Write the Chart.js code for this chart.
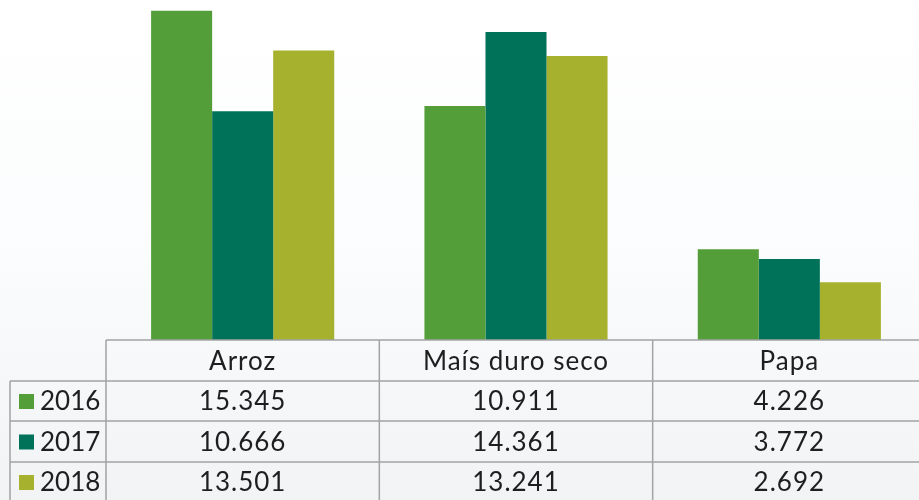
<!DOCTYPE html>
<html>
<head>
<meta charset="utf-8">
<script src="https://cdn.jsdelivr.net/npm/chart.js@4"></script>
<style>
  html, body { margin: 0; padding: 0; background: #fff; }
  #wrap { width: 919px; height: 500px; position: relative; overflow: hidden; }
</style>
</head>
<body>
<div id="wrap"><canvas id="myChart" width="926" height="500"></canvas></div>
<script>
const categories = ['Arroz', 'Maís duro seco', 'Papa']
const years = ['2016', '2017', '2018']
const values2016 = [15345, 10911, 4226]
const values2017 = [10666, 14361, 3772]
const values2018 = [13501, 13241, 2692]
const colors = ['#549E39', '#00725A', '#A6B22E']

const allValues = [values2016, values2017, values2018]

function fmt(v) {
    return String(v).replace(/\B(?=(\d{3})+(?!\d))/g, '.')
}

const bgPlugin = {
    id: 'bg',
    beforeDraw(chart) {
        const c = chart.ctx
        const g = c.createLinearGradient(0, 0, 0, chart.height)
        g.addColorStop(0, '#ffffff')
        g.addColorStop(0.5, '#fbfcfd')
        g.addColorStop(1, '#f1f3f5')
        c.save()
        c.fillStyle = g
        c.fillRect(0, 0, chart.width, chart.height)
        c.restore()
    }
}

// data table under the bars
const tablePlugin = {
    id: 'dataTable',
    afterDraw(chart) {
        const c = chart.ctx
        const x = chart.scales.x
        const top = chart.chartArea.bottom
        const rowTops = [top, top + 41, top + 81, top + 122]
        const bottom = 502
        const colW = x.getPixelForValue(1) - x.getPixelForValue(0)
        const left = x.getPixelForValue(0) - colW / 2
        const right = chart.chartArea.right
        const rowHeadLeft = 10

        c.save()
        c.strokeStyle = '#a3a3a3'
        c.lineWidth = 1.5

        c.beginPath()
        c.moveTo(left, rowTops[0]); c.lineTo(right, rowTops[0])
        for (let r = 1; r < rowTops.length; r++) {
            c.moveTo(rowHeadLeft, rowTops[r]); c.lineTo(right, rowTops[r])
        }
        c.moveTo(rowHeadLeft, rowTops[1]); c.lineTo(rowHeadLeft, bottom)
        for (let i = 0; i <= categories.length; i++) {
            const px = left + i * colW
            c.moveTo(px, rowTops[0]); c.lineTo(px, bottom)
        }
        c.stroke()

        c.fillStyle = '#1e1e1e'
        c.font = '26px Lato, "Noto Sans", sans-serif'
        c.letterSpacing = '1px'
        c.textAlign = 'center'
        c.textBaseline = 'middle'
        categories.forEach((cat, i) => {
            c.fillText(cat, x.getPixelForValue(i), (rowTops[0] + rowTops[1]) / 2 + 1)
        })
        for (let r = 0; r < years.length; r++) {
            const yMid = r < 2 ? (rowTops[r + 1] + rowTops[r + 2]) / 2 : rowTops[3] + 20
            c.letterSpacing = '1px'
            allValues[r].forEach((v, i) => {
                c.textAlign = 'center'
                c.fillText(fmt(v), x.getPixelForValue(i), yMid + 1)
            })
            c.fillStyle = colors[r]
            c.fillRect(19, yMid - 7, 15, 15)
            c.fillStyle = '#1e1e1e'
            c.textAlign = 'left'
            c.letterSpacing = '0px'
            c.fillText(years[r], 40, yMid + 1)
        }
        c.restore()
    }
}

const ctx = document.getElementById('myChart').getContext('2d')
const myChart = new Chart(ctx, {
    type: 'bar',
    data: {
        labels: categories,
        datasets: years.map((yr, i) => ({
            label: yr,
            data: allValues[i],
            backgroundColor: colors[i],
            borderWidth: 0
        }))
    },
    options: {
        responsive: false,
        animation: false,
        layout: { padding: { left: 106, right: 0, top: 0, bottom: 160 } },
        datasets: { bar: { categoryPercentage: 0.67, barPercentage: 1 } },
        plugins: { legend: { display: false }, tooltip: { enabled: false } },
        scales: {
            x: { display: false },
            y: { display: false, min: 0, max: 15850 }
        }
    },
    plugins: [bgPlugin, tablePlugin]
})
</script>
</body>
</html>
